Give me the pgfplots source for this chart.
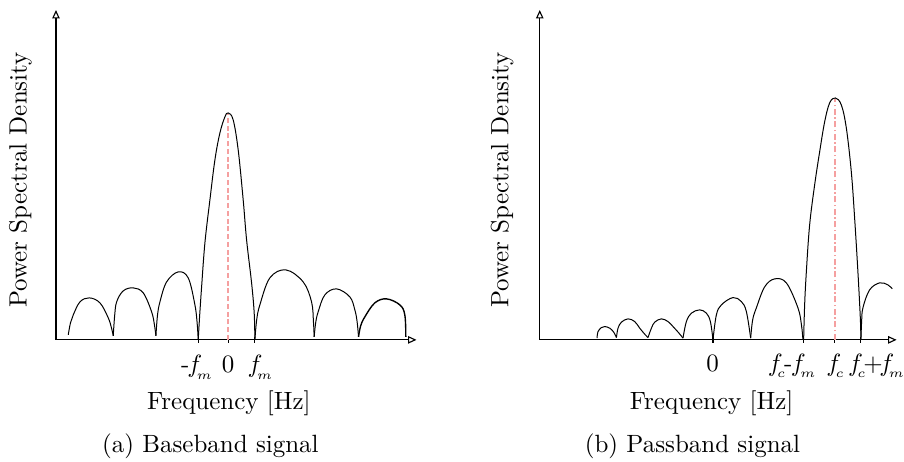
\documentclass[border=0pt]{standalone}
\usepackage{pgfplots}
\pgfplotsset{compat=1.18}
\usetikzlibrary{arrows.meta}
\definecolor{dashred}{RGB}{245,160,160}
\newcommand{\fs}[1]{f_{\kern-1.2pt_{#1}}}
\tikzset{lab/.style={anchor=base, execute at begin node={\scriptspace=0pt}}}
\begin{document}
\begin{tikzpicture}[every node/.style={inner sep=0pt}]
\pgfplotsset{
  psd/.style={
    scale only axis, x=0.4pt, y=0.4pt,
    ymin=0, ymax=330,
    axis x line=bottom, axis y line=left,
    axis line style={line width=0.45pt, -{Triangle[open,length=3.4pt,width=3pt]}},
    ytick=\empty,
    xticklabels={,,,,},
    tick align=center, major tick length=2.4pt,
    tick style={black, line width=0.45pt},
    clip=false,
  },
  lobe/.style={black, line width=0.4pt, smooth, tension=0.6, no markers},
  redline/.style={dashred, line width=0.7pt, sharp plot, no markers},
}
% ---------------- (a) Baseband ----------------
\begin{axis}[psd, xmin=56, xmax=416.7, xtick={199,228.3,255}]
\path (axis cs:0,-122) rectangle (axis cs:904,340);
\addplot[lobe] coordinates {(68.3,5) (70.5,17) (73.3,25) (80,38) (89.3,42) (100,37) (108.3,22) (111.5,12) (113.3,4)};
\addplot[lobe] coordinates {(113.3,4) (114.7,24) (116.7,38) (123.3,49) (133.3,52) (143.3,47) (151.7,28) (154.5,15) (156,4)};
\addplot[lobe] coordinates {(156,4) (157.5,24) (160,38) (166.7,58) (178.3,68) (188.3,62) (195,35) (197.3,16) (198.3,0)};
\addplot[lobe] coordinates {(198.3,0) (199.8,25) (201.7,53) (205,97) (210,140) (215,180) (220,207) (225,223) (228.3,227) (233.3,220) (238.3,190) (243.3,140) (246.7,100) (251.7,57) (254.3,27) (255,0)};
\addplot[lobe] coordinates {(255,0) (256.8,20) (260,35) (270,62) (286,70) (303.3,58) (311.7,38) (313.6,18) (314.3,3)};
\addplot[lobe] coordinates {(314.3,3) (315.8,17) (318.3,28) (325,45) (336.7,51) (350,43) (355,30) (357.3,18) (358.7,3)};
\addplot[lobe, line width=0.55pt] coordinates {(358.7,3) (360.8,14) (365,23) (375,37) (386.7,41) (400,35) (405,25) (406,3)};
\addplot[redline, dash pattern=on 2pt off 1.1pt] coordinates {(228.3,0) (228.3,226)};
\node[lab] at (axis cs:196.7,-33) {-\kern-0.8pt$\fs{m}$};
\node[lab] at (axis cs:228.3,-33) {$0$};
\node[lab] at (axis cs:260,-33) {$\fs{m}$};
\node[anchor=base] at (axis cs:229,-70) {Frequency [Hz]};
\node[anchor=base, rotate=90] at (axis cs:26.7,160) {Power Spectral Density};
\node[anchor=base] at (axis cs:210.5,-112.7) {(a) Baseband signal};
\end{axis}
% ---------------- (b) Passband ----------------
\begin{axis}[psd, at={(193.6pt,0pt)}, xmin=540, xmax=897, xtick={713.3,804,835.3,861}]
\addplot[lobe] coordinates {(597.3,1.7) (598.3,8.3) (601.7,12.3) (605,13.3) (610,11.7) (614,7.7) (616.7,2.3)};
\addplot[lobe] coordinates {(616.7,2.3) (618.3,11.7) (621.7,17.7) (628.3,21) (635,18.3) (640,11.7) (645,5.7) (648.3,2.3)};
\addplot[lobe] coordinates {(648.3,2.3) (651.7,11.7) (655,17.7) (661.7,21) (668.3,18.3) (673.3,13.3) (679.3,6.7) (683.3,1.7)};
\addplot[lobe] coordinates {(683.3,1.7) (686.7,18.3) (691.7,26.7) (700,30) (706.7,26.7) (710.7,18.3) (713.3,0)};
\addplot[lobe] coordinates {(713.3,0) (716.7,25) (721.7,35) (733.3,42.3) (741.7,38.3) (746.7,28.3) (751,1.7)};
\addplot[lobe] coordinates {(751,1.7) (753,20) (756.7,32) (765,53) (775,61) (786.7,57) (798.3,32) (801.8,15) (803.3,0)};
\addplot[lobe] coordinates {(804,0) (805,35) (806.7,68) (810,115) (815,155) (820,188) (825,218) (830,237) (835.7,242) (841.7,235) (846.7,212) (851.7,168) (855,122) (858.3,68) (860.7,22) (861.3,0)};
\addplot[lobe] coordinates {(861.3,0) (862,18) (863.3,32) (870,50) (880,57) (888.3,55) (892.7,51)};
\addplot[redline, dash pattern=on 2.4pt off 1pt on 0.6pt off 1pt] coordinates {(835.3,0) (835.3,241)};
\node[lab] at (axis cs:713,-31.7) {$0$};
\node[lab] at (axis cs:792,-31.7) {$\fs{c}$\kern-0.4pt-\kern-0.6pt$\fs{m}$};
\node[lab] at (axis cs:835.5,-31.7) {$\fs{c}$};
\node[lab] at (axis cs:876.5,-31.7) {$\fs{c}\mkern-1.5mu{+}\mkern-2.5mu\fs{m}$};
\node[anchor=base] at (axis cs:712,-70) {Frequency [Hz]};
\node[anchor=base, rotate=90] at (axis cs:508.7,160) {Power Spectral Density};
\node[anchor=base] at (axis cs:692.8,-112.7) {(b) Passband signal};
\end{axis}
\end{tikzpicture}
\end{document}
